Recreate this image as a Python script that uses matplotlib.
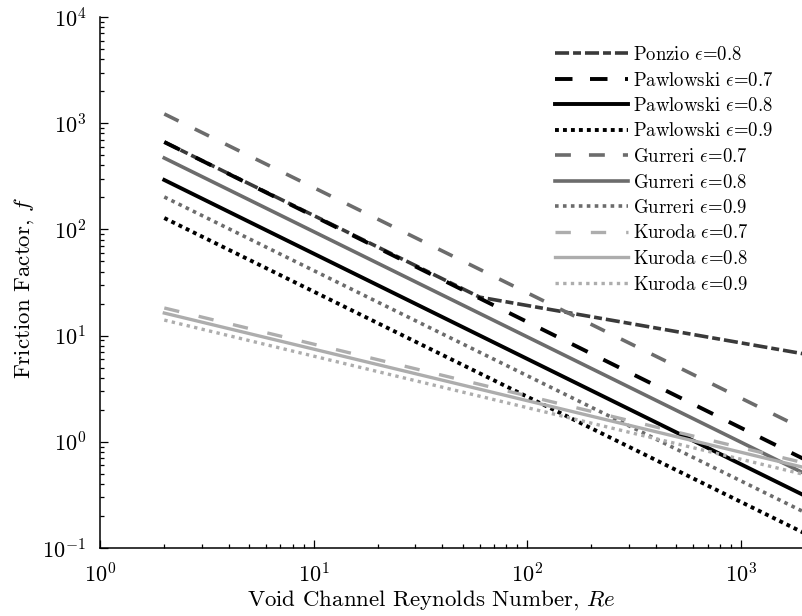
import numpy as np
import matplotlib
matplotlib.use('Agg')
import matplotlib.pyplot as plt

plt.rcParams['font.family'] = 'serif'
plt.rcParams['font.serif'] = ['cmr10']
plt.rcParams['mathtext.fontset'] = 'cm'
plt.rcParams['axes.formatter.use_mathtext'] = True

# Reynolds number at the ends of each correlation
re_ends = [2, 2000]
# Ponzio has a break in slope, so it gets three points
ponzio_re = [2, 60, 2000]
ponzio_08 = [665, 23, 6.7]

pawlowski_07 = [665, 0.68]
pawlowski_08 = [292, 0.31]
pawlowski_09 = [128, 0.137]

gurreri_07 = [1222, 1.30]
gurreri_08 = [470, 0.50]
gurreri_09 = [202, 0.216]

kuroda_07 = [18.2, 0.63]
kuroda_08 = [16.3, 0.57]
kuroda_09 = [14.0, 0.49]

black = '#000000'
dark = '#3a3a3a'
mid = '#6c6c6c'
light = '#adadad'

dashdot = (3.9, 1.1, 2.2, 1.1)
dash_k = (4.5, 4.5)
dash_g = (4.4, 5.0)
dash_l = (4.6, 6.0)
dot_k = (1.0, 1.05)
dot_g = (1.0, 1.2)
dot_l = (1.0, 1.3)

fig = plt.figure(figsize=(8.02, 6.16), dpi=100)
ax = fig.add_axes([100 / 802, 68 / 616, 705 / 802, 531 / 616])

ax.plot(ponzio_re, ponzio_08, color=dark, lw=2.6, dashes=dashdot, label=r'Ponzio $\epsilon$=0.8')
ax.plot(re_ends, pawlowski_07, color=black, lw=2.8, dashes=dash_k, label=r'Pawlowski $\epsilon$=0.7')
ax.plot(re_ends, pawlowski_08, color=black, lw=2.8, label=r'Pawlowski $\epsilon$=0.8')
ax.plot(re_ends, pawlowski_09, color=black, lw=2.8, dashes=dot_k, label=r'Pawlowski $\epsilon$=0.9')
ax.plot(re_ends, gurreri_07, color=mid, lw=2.6, dashes=dash_g, label=r'Gurreri $\epsilon$=0.7')
ax.plot(re_ends, gurreri_08, color=mid, lw=2.6, label=r'Gurreri $\epsilon$=0.8')
ax.plot(re_ends, gurreri_09, color=mid, lw=2.6, dashes=dot_g, label=r'Gurreri $\epsilon$=0.9')
ax.plot(re_ends, kuroda_07, color=light, lw=2.4, dashes=dash_l, label=r'Kuroda $\epsilon$=0.7')
ax.plot(re_ends, kuroda_08, color=light, lw=2.4, label=r'Kuroda $\epsilon$=0.8')
ax.plot(re_ends, kuroda_09, color=light, lw=2.4, dashes=dot_l, label=r'Kuroda $\epsilon$=0.9')

ax.set_xscale('log')
ax.set_yscale('log')
ax.set_xlim(1, 2000)
ax.set_ylim(0.1, 1e4)

for side in ['top', 'right']:
    ax.spines[side].set_visible(False)
for side in ['left', 'bottom']:
    ax.spines[side].set_linewidth(1.1)

ax.tick_params(which='both', direction='in', labelsize=16, width=0.9)
ax.tick_params(which='major', length=6, pad=10)
ax.tick_params(which='minor', length=3)
ax.yaxis.set_minor_locator(matplotlib.ticker.LogLocator(base=10, subs=np.arange(2, 10), numticks=20))
ax.xaxis.set_minor_locator(matplotlib.ticker.LogLocator(base=10, subs=np.arange(2, 10), numticks=20))
ax.yaxis.set_minor_formatter(matplotlib.ticker.NullFormatter())
ax.xaxis.set_minor_formatter(matplotlib.ticker.NullFormatter())

ax.set_xlabel(r'Void Channel Reynolds Number, $Re$', fontsize=16.5)
ax.set_ylabel(r'Friction Factor, $f$', fontsize=16.5)
ax.xaxis.set_label_coords(0.47, -0.076)
ax.yaxis.set_label_coords(-0.091, 0.49)

ax.legend(loc='upper left', bbox_to_anchor=(555 / 802, 1 - 46 / 616),
          bbox_transform=fig.transFigure, frameon=False, fontsize=13.5,
          handlelength=3.9, handletextpad=0.25, labelspacing=0.40, borderpad=0,
          borderaxespad=0)

fig.savefig('out.png', dpi=100)
